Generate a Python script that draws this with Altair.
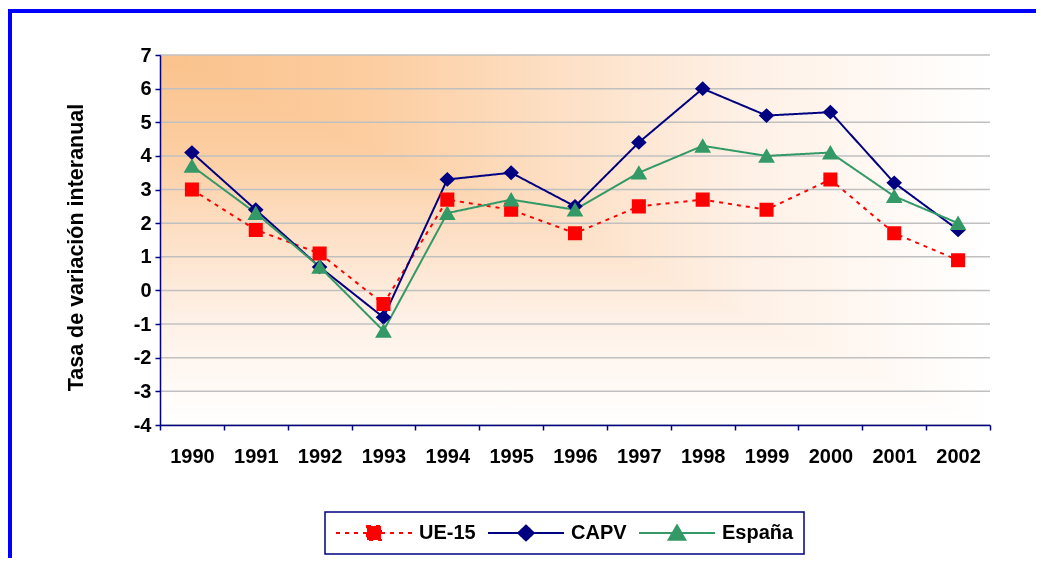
import altair as alt
import pandas as pd

# ---- data ----
years = [1990, 1991, 1992, 1993, 1994, 1995, 1996, 1997, 1998, 1999, 2000, 2001, 2002]
ue15 = [3.0, 1.8, 1.1, -0.4, 2.7, 2.4, 1.7, 2.5, 2.7, 2.4, 3.3, 1.7, 0.9]
capv = [4.1, 2.4, 0.7, -0.8, 3.3, 3.5, 2.5, 4.4, 6.0, 5.2, 5.3, 3.2, 1.8]
espana = [3.7, 2.3, 0.7, -1.2, 2.3, 2.7, 2.4, 3.5, 4.3, 4.0, 4.1, 2.8, 2.0]
series_names = ["UE-15", "CAPV", "España"]
y_ticks = list(range(-4, 8))
y_title = "Tasa de variación interanual"

# ---- styles ----
colors = ["#FF0000", "#000080", "#339966"]
dashes = [[4, 5], [1, 0], [1, 0]]
widths = [2, 2, 2.5]
# marker paths with a horizontal stroke (only visible in the legend)
shapes = [
    "M-1,0H1M-0.185,-0.185H0.185V0.185H-0.185Z",
    "M-1,0H1M0,-0.195L0.205,0L0,0.195L-0.205,0Z",
    "M-1,0H1M0,-0.2L0.22,0.18L-0.22,0.18Z",
]
FONT = "Liberation Sans"
W, H = 830, 370

rows = []
for name, vals in zip(series_names, [ue15, capv, espana]):
    for yr, v in zip(years, vals):
        rows.append({"year": yr, "value": v, "series": name})
df = pd.DataFrame(rows)

one = pd.DataFrame({"k": [0]})
grid_df = pd.DataFrame({"value": y_ticks})

xscale = alt.Scale(type="band", paddingInner=0, paddingOuter=0)
yscale = alt.Scale(domain=[-4, 7], nice=False, zero=False)

x_axis = alt.Axis(
    title=None, labelAngle=0, tickBand="extent", labelPadding=16, tickSize=5,
    tickWidth=1.5, tickColor="#000080", domainColor="#000080", domainWidth=1.5,
    grid=False, zindex=1, labelFont=FONT, labelFontSize=20, labelFontWeight="bold",
    labelColor="black",
)
y_axis = alt.Axis(
    values=y_ticks, labelExpr="'' + datum.value", title=y_title, titleFont=FONT,
    titleFontSize=21.5, titleFontWeight="bold", titleColor="black", titleAngle=270,
    titleX=-78, titleY=192, titleBaseline="alphabetic", titleAlign="center",
    labelPadding=4, tickSize=5, tickWidth=1.5, tickColor="#000080",
    domainColor="#000080", domainWidth=1.5, grid=False, zindex=1,
    labelFont=FONT, labelFontSize=20, labelFontWeight="bold", labelColor="black",
)
x_enc = alt.X("year:O", scale=xscale, axis=x_axis)
y_enc = alt.Y("value:Q", scale=yscale, axis=y_axis)

frame = alt.Chart(one).mark_rect(fill=None, stroke="#0000FF", strokeWidth=4).encode(
    x=alt.value(-150), x2=alt.value(1200), y=alt.value(-44), y2=alt.value(700)
)

stops = [
    alt.GradientStop(color="#FAC28C", offset=0),
    alt.GradientStop(color="#FCCDA0", offset=0.25),
    alt.GradientStop(color="#FDE1C8", offset=0.5),
    alt.GradientStop(color="#FEF0E5", offset=0.7),
    alt.GradientStop(color="#FFFFFF", offset=1),
]
bg_h = alt.Chart(one).mark_rect(
    color=alt.LinearGradient(gradient="linear", stops=stops, x1=0, y1=0, x2=1, y2=0)
).encode(x=alt.value(0), x2=alt.value(W), y=alt.value(0), y2=alt.value(H))
bg_v = alt.Chart(one).mark_rect(
    color=alt.LinearGradient(gradient="linear", stops=stops, x1=0, y1=0, x2=0, y2=1),
    blend="lighten",
).encode(x=alt.value(0), x2=alt.value(W), y=alt.value(0), y2=alt.value(H))

grid = alt.Chart(grid_df).mark_rule(color="#C0C0C0", strokeWidth=1.5).encode(
    y=y_enc, x=alt.value(0), x2=alt.value(W),
)

legend = alt.Legend(
    title=None, orient="none", legendX=165, legendY=457, direction="horizontal",
    symbolSize=5776, symbolStrokeWidth=1.5, labelFont=FONT, labelFontSize=20,
    labelFontWeight="bold", labelColor="black", labelOffset=6, columnPadding=11,
    padding=10, strokeColor="#000080", fillColor="white", clipHeight=22,
)

stroke_enc = alt.Stroke("series:N", scale=alt.Scale(domain=series_names, range=colors), legend=legend)
dash_enc = alt.StrokeDash("series:N", scale=alt.Scale(domain=series_names, range=dashes), legend=legend)

lines = alt.Chart(df).mark_line().encode(
    x=x_enc, y=y_enc,
    stroke=stroke_enc,
    strokeDash=dash_enc,
    strokeWidth=alt.StrokeWidth("series:N", scale=alt.Scale(domain=series_names, range=widths), legend=legend),
)

points = alt.Chart(df).mark_point(filled=True, size=5776, opacity=1).encode(
    x=x_enc, y=y_enc,
    fill=alt.Fill("series:N", scale=alt.Scale(domain=series_names, range=colors), legend=legend),
    stroke=stroke_enc,
    shape=alt.Shape("series:N", scale=alt.Scale(domain=series_names, range=shapes), legend=legend),
    strokeDash=dash_enc,
    strokeWidth=alt.value(0),
)

chart = alt.layer(frame, bg_h, bg_v, grid, lines, points).properties(
    width=W, height=H,
    padding={"left": 152, "top": 47, "right": 46, "bottom": 133},
    autosize=alt.AutoSizeParams(type="none"),
    background="white",
).configure_view(stroke=None).configure_legend(strokeWidth=1.5)

chart.save("out.html", embed_options={"renderer": "svg", "actions": False})
